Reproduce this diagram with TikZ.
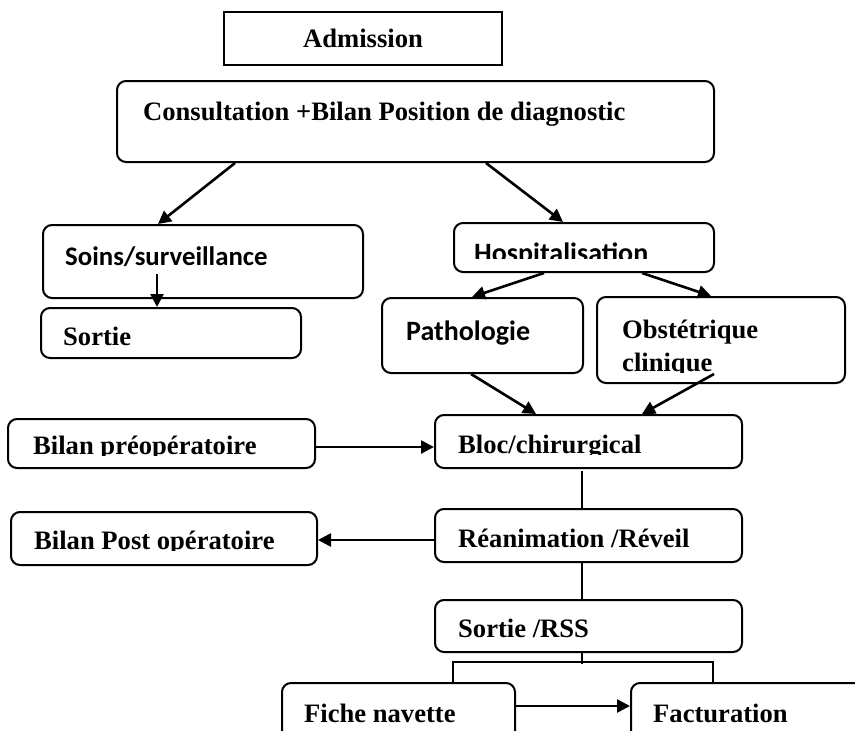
\documentclass[tikz,border=0pt]{standalone}
\usepackage{fontspec}
\setmainfont{Liberation Serif}
\newfontfamily\calfont{Carlito}
\usetikzlibrary{arrows.meta,calc,fit}
\begin{document}
\begin{tikzpicture}[x=1pt,y=-1pt,
  box/.style={draw,line width=2pt,rounded corners=9pt,inner sep=0pt},
  sqbox/.style={draw,line width=2pt,inner sep=0pt},
  txt/.style={anchor=base west,inner sep=0pt,font=\fontsize{26.6}{30}\selectfont\bfseries},
  stxt/.style={anchor=base west,inner sep=0pt,font=\fontsize{28}{32}\selectfont\calfont\bfseries},
  arr/.style={line width=2.6pt,-{Triangle[length=13pt,width=13pt]}},
  ln/.style={line width=1.5pt}]
\useasboundingbox (0,0) rectangle (855,731);
\clip (0,0) rectangle (855,731);
% boxes
\node[sqbox, fit={(224,12) (502,65)}] (adm) {};
\node[box, fit={(117,81) (714,162)}] (cons) {};
\node[box, fit={(43,225) (363,298)}] (soins) {};
\node[box, fit={(454,223) (714,272)}] (hosp) {};
\node[box, fit={(41,308) (301,358)}] (sortie) {};
\node[box, fit={(382,298) (583,373)}] (path) {};
\node[box, fit={(597,297) (845,383)}] (obst) {};
\node[box, fit={(435,415) (742,468)}] (bloc) {};
\node[box, fit={(8,419) (315,468)}] (preop) {};
\node[box, fit={(435,509) (742,562)}] (rea) {};
\node[box, fit={(11,512) (317,565)}] (post) {};
\node[box, fit={(435,600) (742,652)}] (rss) {};
\node[box, fit={(282,683) (515,760)}] (fiche) {};
\node[box, fit={(631,683) (890,760)}] (fact) {};
% texts
\node[txt] (admT) at (303,47) {Admission};
\node[txt] (consT) at (143,120) {Consultation +Bilan Position de diagnostic};
\node[stxt,font=\fontsize{26.8}{30}\selectfont\calfont\bfseries] (soinsT) at (65,265) {Soins/surveillance};
\begin{scope}
\clip (454,223) rectangle (714,258);
\node[stxt] (hospT) at (474,262) {Hospitalisation};
\end{scope}
\node[txt] (sortieT) at (63,345) {Sortie};
\node[stxt] (pathT) at (406,340) {Pathologie};
\node[txt] (obstT) at (622,338) {Obstétrique};
\begin{scope}
\clip (597,340) rectangle (845,372);
\node[txt] (cliT) at (622,371) {clinique};
\end{scope}
\begin{scope}
\clip (435,415) rectangle (742,454.5);
\node[txt] (blocT) at (458,453) {Bloc/chirurgical};
\end{scope}
\begin{scope}
\clip (8,419) rectangle (315,455.5);
\node[txt] (preopT) at (33,454) {Bilan préopératoire};
\end{scope}
\node[txt] (reaT) at (458,547) {Réanimation /Réveil};
\begin{scope}
\clip (11,512) rectangle (317,550.5);
\node[txt] (postT) at (34,549) {Bilan Post opératoire};
\end{scope}
\node[txt] (rssT) at (458,637) {Sortie /RSS};
\node[txt] (ficheT) at (304,722) {Fiche navette};
\node[txt] (factT) at (653,722) {Facturation};
% connectors
\draw[arr] ($(cons.south west)+(119,0)$) -- ($(soins.north west)+(116,0)$);
\draw[arr] ($(cons.south west)+(370,0)$) -- ($(hosp.north west)+(110,0)$);
\draw[arr] ($(soins.south west)+(115,-25)$) -- ($(sortie.north west)+(117,0)$);
\draw[arr] ($(hosp.south west)+(91,0)$) -- ($(path.north west)+(91,0)$);
\draw[arr] ($(hosp.south west)+(189,0)$) -- ($(obst.north west)+(115,0)$);
\draw[arr] ($(path.south west)+(90,0)$) -- ($(bloc.north west)+(102,0)$);
\draw[arr] ($(obst.south west)+(118,-10)$) -- ($(bloc.north west)+(208,0)$);
\draw[arr] ($(preop.south east)+(0,-22)$) -- ($(bloc.south west)+(0,-22)$);
\draw[ln] ($(bloc.south west)+(148,2)$) -- ($(rea.north west)+(148,0)$);
\draw[arr] ($(rea.south west)+(0,-23)$) -- ($(post.south east)+(0,-26)$);
\draw[ln] ($(rea.south west)+(148,0)$) -- ($(rss.north west)+(148,0)$);
\draw[ln] ($(rss.south west)+(148,0)$) -- ++(0,11);
\draw[ln] ($(fiche.north west)+(172,0)$) -- ++(0,-20) -| ($(fact.north west)+(83,0)$);
\draw[arr] ($(fiche.north east)+(0,24)$) -- ($(fact.north west)+(0,24)$);
\end{tikzpicture}
\end{document}
